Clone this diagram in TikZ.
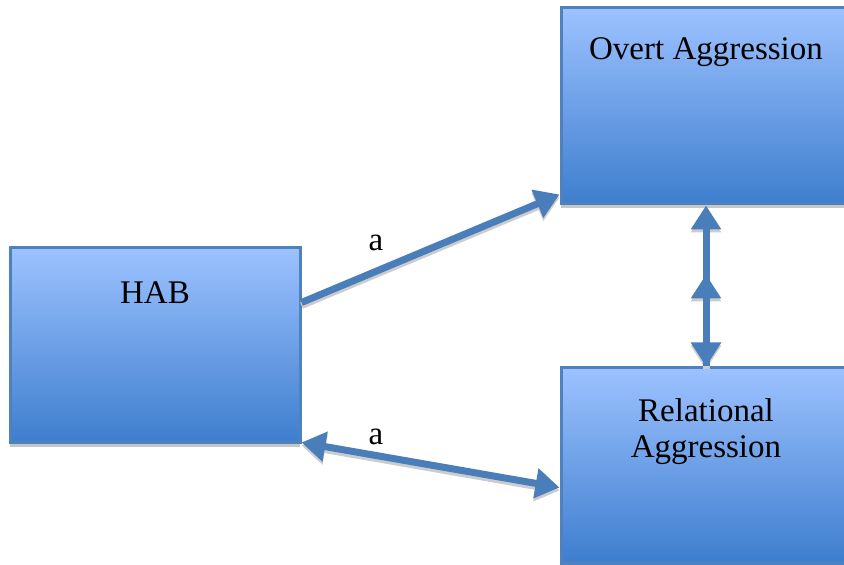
\documentclass[tikz,border=0pt]{standalone}
\usepackage{fontspec}
\setmainfont{Liberation Serif}
\usetikzlibrary{arrows.meta,shadows}

\definecolor{boxline}{HTML}{4F81BD}
\definecolor{boxtop}{HTML}{9CC2FF}
\definecolor{boxmid}{HTML}{7CA9EE}
\definecolor{boxbot}{HTML}{3E7ECE}
\definecolor{linkblue}{HTML}{4A7EBB}

\tikzset{
	box/.style={draw=boxline, line width=1.5pt, top color=boxtop, middle color=boxmid,
		bottom color=boxbot, minimum width=145pt, inner sep=0pt,
		drop shadow={shadow xshift=0pt, shadow yshift=-2pt, fill=gray!45, opacity=1}},
	boxtext/.style={font=\fontsize{16.5}{18}\selectfont, align=center, inner sep=0pt},
	link/.style={draw=linkblue, line width=3.5pt,
		preaction={draw=gray!40, line width=3.5pt, transform canvas={yshift=-1.5pt}}},
	bigtip/.tip={Triangle[width=14.5pt, length=12pt]},
}

\begin{document}
\begin{tikzpicture}[x=0.5pt,y=-0.5pt]
	\useasboundingbox (0,0) rectangle (844,565);
	% boxes
	\node[box, minimum height=97.5pt] (hab) at (155,345.5) {};
	\node[box, minimum height=98pt] (overt) at (706,106) {};
	\node[box, minimum height=97.5pt] (relational) at (706,465.5) {};
	\node[boxtext] (habtext) at ([yshift=-23pt]hab.north) {HAB};
	\node[boxtext] (overttext) at ([yshift=-23pt]overt.north) {Overt Aggression};
	\node[boxtext] (reltext) at ([yshift=-32.5pt]relational.north) {Relational\\Aggression};
	% paths
	\coordinate (mid) at ([yshift=-34.5pt]overt.south);
	\draw[link, -bigtip] ([yshift=21.5pt]hab.east) -- ([yshift=5.5pt]overt.south west);
	\draw[link, bigtip-bigtip] ([yshift=1pt]hab.south east) -- ([yshift=-11pt]relational.west);
	\draw[link, bigtip-bigtip] (overt.south) -- (relational.north);
	\draw[link, -bigtip] (relational.north) -- (mid);
	\node[boxtext] (a1) at (376,243) {a};
	\node[boxtext] (a2) at (376,437) {a};
\end{tikzpicture}
\end{document}
